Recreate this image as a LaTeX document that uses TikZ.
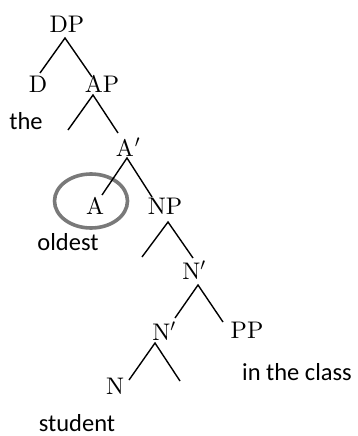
\documentclass[tikz,border=0pt]{standalone}
\usepackage{fontspec}
\newfontfamily\wordfont{Carlito}
\newfontfamily\catfont{lmroman10-regular}[Extension=.otf]
\usetikzlibrary{calc}
\begin{document}
\begin{tikzpicture}[x=1pt,y=-1pt,
  cat/.style={inner sep=0pt,font=\catfont\fontsize{24}{28}\selectfont},
  word/.style={inner sep=0pt,font=\wordfont\fontsize{24.5}{29}\selectfont},
  branch/.style={line width=1.4pt},
  ring/.style={draw=gray!95!black,line width=3.6pt}]
\useasboundingbox (0,0) rectangle (357,436);
% highlight ring
\draw[ring] (91,201) ellipse [x radius=36.5pt, y radius=27pt];
% nodes
\node[cat] (DP) at (67,24) {DP};
\node[cat] (D) at (38,84) {D};
\node[cat] (AP) at (102,84) {AP};
\node[word] (the) at (26,121) {the};
\node[cat] (A1) at (128,147) {A\kern1pt$'$};
\node[cat] (A) at (95,206) {A};
\node[cat] (NP) at (165,206) {NP};
\node[word] (oldest) at (68,242) {oldest};
\node[cat] (N1) at (194,270) {N$'$};
\node[cat] (N2) at (164,331) {N$'$};
\node[cat] (PP) at (247,330) {PP};
\node[word] (class) at (297,372) {in the class};
\node[cat] (N) at (115,386) {N};
\node[word] (student) at (77,423) {student};
% free branch ends
\coordinate (APleft) at (68,130);
\coordinate (NPleft) at (142,257);
\coordinate (N2right) at (180,381);
% branches
\draw[branch] ($(D)+(2,-11)$) -- ($(DP)+(-2,14)$) -- ($(AP)+(-10,-7)$);
\draw[branch] (APleft) -- ($(AP)+(-9,11)$) -- ($(A1)+(-10,-14)$);
\draw[branch] ($(A)+(7,-11)$) -- ($(A1)+(-1,11)$) -- ($(NP)+(-13,-9)$);
\draw[branch] (NPleft) -- ($(NP)+(3,16)$) -- ($(N1)+(-1,-12)$);
\draw[branch] ($(N2)+(11,-13)$) -- ($(N1)+(4,15)$) -- ($(PP)+(-24,-8)$);
\draw[branch] ($(N)+(14,-6)$) -- ($(N2)+(-9,12)$) -- (N2right);
\end{tikzpicture}
\end{document}
